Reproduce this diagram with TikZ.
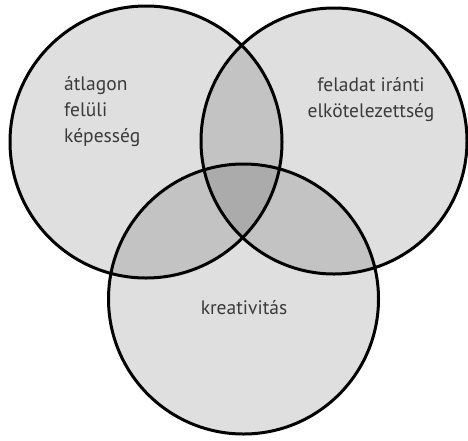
\documentclass[tikz,border=0pt]{standalone}
\usepackage{fontspec}
\setmainfont{PT Sans}
\definecolor{txt}{HTML}{3A3A3A}
\begin{document}
\begin{tikzpicture}[x=1pt,y=-1pt,
  venn/.style={draw=black,line width=3pt,fill=black,fill opacity=0.125},
  lbl/.style={text=txt,font=\fontsize{19.5}{26}\selectfont,inner sep=0pt}]
\useasboundingbox (0,0) rectangle (468,440);
\path[venn] (146,142) circle[radius=136];
\path[venn] (334,141) circle[radius=133];
\path[venn] (243.5,299) circle[radius=135];
\node[lbl,align=left,anchor=north west] (a) at (64,76) {átlagon\\felüli\\képesség};
\node[lbl,align=center] (b) at (371,100) {feladat iránti\\elkötelezettség};
\node[lbl] (c) at (244,308) {kreativitás};
\end{tikzpicture}
\end{document}
